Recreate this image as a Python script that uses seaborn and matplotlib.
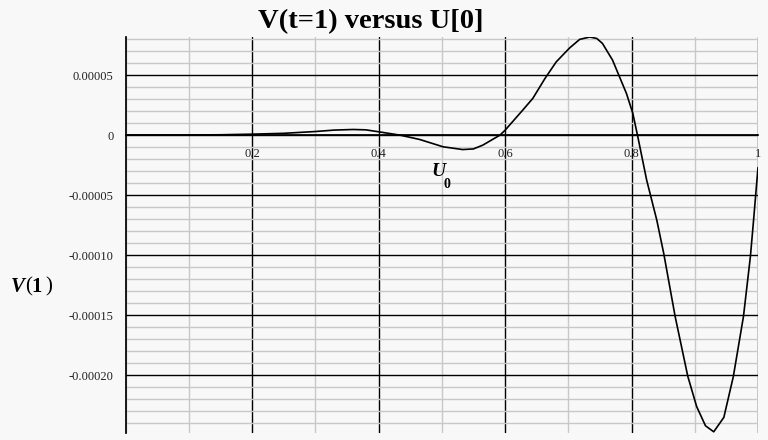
import pandas as pd
import matplotlib
matplotlib.use("Agg")
import matplotlib.pyplot as plt
from matplotlib.ticker import MultipleLocator, FixedLocator, FixedFormatter
import seaborn as sns

# values (V in units of 1e-6)
u0 = [0.00, 0.05, 0.10, 0.15, 0.20, 0.25, 0.30, 0.33, 0.36, 0.38, 0.40, 0.434,
      0.465, 0.502, 0.533, 0.55, 0.565, 0.592, 0.60, 0.61, 0.628, 0.644, 0.663,
      0.681, 0.702, 0.718, 0.734, 0.745, 0.754, 0.77, 0.781, 0.792, 0.802, 0.81,
      0.824, 0.84, 0.851, 0.869, 0.889, 0.903, 0.917, 0.93, 0.946, 0.961, 0.977,
      0.988, 0.993, 1.00]
v1 = [0, 0, 0.1, 0.3, 0.8, 1.5, 3.0, 4.2, 4.7, 4.4, 2.8, 0,
      -3.6, -9.7, -12.0, -11.5, -8.3, 0, 4.0, 10.0, 20.8, 30.6, 47,
      61, 72.5, 79.7, 81.7, 80.5, 76.4, 62.5, 48.6, 34.7, 18.3, -1.4,
      -37.5, -70.8, -98.6, -151, -200.8, -226, -242, -247, -235, -201, -151,
      -101, -70.8, -27]

xticks = [0.2, 0.4, 0.6, 0.8, 1.0]
xtick_labels = ["0.2", "0.4", "0.6", "0.8", "1"]
yticks = [-0.0002, -0.00015, -0.0001, -0.00005, 0, 0.00005]
ytick_labels = ["-0.00020", "-0.00015", "-0.00010", "-0.00005", "0", "0.00005"]

df = pd.DataFrame({"U0": u0, "V1": [v * 1e-6 for v in v1]})

sns.set_theme(style="white")
plt.rcParams["font.family"] = ["Liberation Serif", "DejaVu Serif"]
plt.rcParams["text.color"] = "black"
bg = "#f8f8f8"

fig = plt.figure(figsize=(7.68, 4.4), dpi=100, facecolor=bg)
ax = fig.add_axes([125.5 / 768, 1 - 433 / 440, (758 - 125.5) / 768, (433 - 37) / 440])
ax.set_facecolor(bg)

sns.lineplot(data=df, x="U0", y="V1", color="black", linewidth=1.2, ax=ax)

ax.set_xlim(0, 1.0)
ax.set_ylim(-0.000248, 0.0000817)

ax.xaxis.set_major_locator(FixedLocator(xticks))
ax.xaxis.set_major_formatter(FixedFormatter(xtick_labels))
ax.xaxis.set_minor_locator(MultipleLocator(0.1))
ax.yaxis.set_major_locator(FixedLocator(yticks))
ax.yaxis.set_major_formatter(FixedFormatter(ytick_labels))
ax.yaxis.set_minor_locator(MultipleLocator(0.00001))

ax.set_axisbelow(True)
ax.grid(which="minor", color="#c8c8c8", linewidth=1)
ax.grid(which="major", color="black", linewidth=1)

for s in ["top", "right"]:
    ax.spines[s].set_visible(False)
ax.spines["bottom"].set_position(("data", 0))
ax.spines["left"].set_color("black")
ax.spines["bottom"].set_color("black")

ax.tick_params(axis="both", which="both", direction="out", color="black",
               length=3.5, width=1, labelsize=9, labelcolor="#222222")
ax.tick_params(axis="x", which="major", pad=6)
ax.tick_params(axis="y", which="major", pad=5)
ax.set_xlabel("")
ax.set_ylabel("")

fig.text(371 / 768, 1 - 22 / 440, "V(t=1) versus U[0]", ha="center", va="center",
         fontsize=20.5, fontweight="bold")

# axis labels
fig.text(431 / 768, 1 - 171 / 440, "U", fontsize=14, fontweight="bold",
         fontstyle="italic", va="center", ha="left")
fig.text(443 / 768, 1 - 184 / 440, "0", fontsize=10, fontweight="bold",
         va="center", ha="left")
fig.text(11 / 768, 1 - 287 / 440, "V", fontsize=15, fontweight="bold",
         fontstyle="italic", va="center", ha="left")
fig.text(25 / 768, 1 - 287 / 440, "(", fontsize=15, va="center", ha="left")
fig.text(31 / 768, 1 - 287 / 440, "1", fontsize=15, fontweight="bold",
         va="center", ha="left")
fig.text(45 / 768, 1 - 287 / 440, ")", fontsize=15, va="center", ha="left")

fig.savefig("out.png", dpi=100, facecolor=bg)
